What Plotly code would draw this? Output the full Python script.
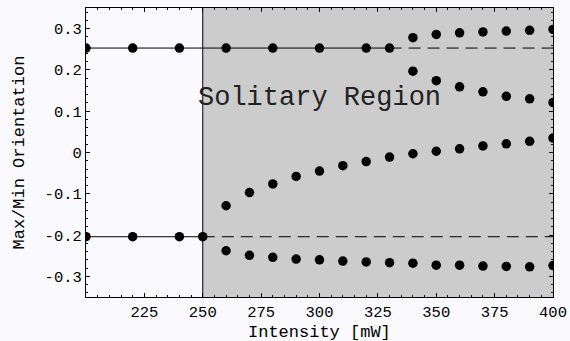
import plotly.graph_objects as go

# Stationary orientation below threshold
x_stable_max = [200, 220, 240]
y_stable_max = [0.253, 0.253, 0.253]
x_stable_min = [200, 220, 240, 250]
y_stable_min = [-0.204, -0.204, -0.204, -0.204]

# Max orientation staying on the stable level in the solitary region
x_upper_flat = [260, 280, 300, 320, 330]
y_upper_flat = [0.253, 0.253, 0.253, 0.253, 0.253]

# Branches after the second bifurcation
x_branch = [340, 350, 360, 370, 380, 390, 400]
y_branch_top = [0.278, 0.286, 0.290, 0.292, 0.294, 0.296, 0.298]
y_branch_mid = [0.197, 0.174, 0.159, 0.147, 0.136, 0.130, 0.121]

# Branches after the first bifurcation at 250 mW
x_solitary = [260, 270, 280, 290, 300, 310, 320, 330, 340, 350, 360, 370, 380, 390, 400]
y_rising = [-0.129, -0.097, -0.076, -0.058, -0.045, -0.032, -0.022, -0.011,
            -0.003, 0.003, 0.009, 0.016, 0.021, 0.027, 0.035]
y_lowest = [-0.238, -0.249, -0.254, -0.258, -0.260, -0.263, -0.265, -0.267,
            -0.268, -0.273, -0.273, -0.275, -0.276, -0.277, -0.274]

# Reference levels (solid where stable, dashed where unstable)
upper_solid_x = [200, 330]
upper_dash_x = [330, 400]
upper_level = 0.253
lower_solid_x = [200, 250]
lower_dash_x = [250, 400]
lower_level = -0.204

threshold = 250
x_range = [200, 400]
y_range = [-0.35, 0.35]

x_tickvals = [225, 250, 275, 300, 325, 350, 375, 400]
x_ticktext = ["225", "250", "275", "300", "325", "350", "375", "400"]
y_tickvals = [-0.3, -0.2, -0.1, 0, 0.1, 0.2, 0.3]
y_ticktext = ["-0.3", "-0.2", "-0.1", "0", "0.1", "0.2", "0.3"]

x_title = "Intensity [mW]"
y_title = "Max/Min Orientation"
region_label = "Solitary Region"

FONT = "Liberation Mono"
DOT = dict(color="black", size=9.5)
DASH = "12px,7px"

fig = go.Figure()

# level lines
fig.add_trace(go.Scatter(x=upper_solid_x, y=[upper_level] * 2, mode="lines",
                         line=dict(color="black", width=1)))
fig.add_trace(go.Scatter(x=upper_dash_x, y=[upper_level] * 2, mode="lines",
                         line=dict(color="black", width=1, dash=DASH)))
fig.add_trace(go.Scatter(x=lower_solid_x, y=[lower_level] * 2, mode="lines",
                         line=dict(color="black", width=1)))
fig.add_trace(go.Scatter(x=lower_dash_x, y=[lower_level] * 2, mode="lines",
                         line=dict(color="black", width=1, dash=DASH)))

# data points
for xs, ys in [
    (x_stable_max, y_stable_max),
    (x_stable_min, y_stable_min),
    (x_upper_flat, y_upper_flat),
    (x_branch, y_branch_top),
    (x_branch, y_branch_mid),
    (x_solitary, y_rising),
    (x_solitary, y_lowest),
]:
    fig.add_trace(go.Scatter(x=xs, y=ys, mode="markers", marker=DOT))

# shaded solitary region and threshold line
fig.add_shape(type="rect", xref="x", yref="paper", x0=threshold, x1=x_range[1],
              y0=0, y1=1, fillcolor="#cccccc", line=dict(width=0), layer="below")
fig.add_shape(type="line", xref="x", yref="paper", x0=threshold, x1=threshold,
              y0=0, y1=1, line=dict(color="black", width=1), layer="below")

fig.add_annotation(x=300, y=0.132, text=region_label, showarrow=False,
                   font=dict(family=FONT, size=27, color="#222222"))

# axis titles placed as paper annotations
fig.add_annotation(xref="paper", yref="paper", x=0.5, y=0, yanchor="middle",
                   yshift=-35, text=x_title, showarrow=False,
                   font=dict(family=FONT, size=17, color="black"))
fig.add_annotation(xref="paper", yref="paper", x=0, y=0.5, xanchor="center",
                   xshift=-67, textangle=-90, text=y_title, showarrow=False,
                   font=dict(family=FONT, size=17, color="black"))

axis_common = dict(
    showgrid=False, zeroline=False, showline=True, linecolor="black", linewidth=1.2,
    mirror="ticks", ticks="inside", ticklen=4, tickwidth=1, tickcolor="black",
    tickfont=dict(family=FONT, size=15.5, color="black"), automargin=False,
)

fig.update_xaxes(
    range=x_range, tickvals=x_tickvals, ticktext=x_ticktext,
    minor=dict(dtick=5, tick0=200, ticks="inside", ticklen=2, tickcolor="black"),
    **axis_common,
)
fig.update_yaxes(
    range=y_range, tickvals=y_tickvals, ticktext=y_ticktext,
    minor=dict(dtick=0.02, tick0=0, ticks="inside", ticklen=2, tickcolor="black"),
    **axis_common,
)

fig.update_layout(
    width=570, height=341,
    margin=dict(l=86, r=17, t=8, b=44),
    paper_bgcolor="#f9f9fe", plot_bgcolor="#f9f9fe",
    showlegend=False,
)

fig.write_html("out.html")
